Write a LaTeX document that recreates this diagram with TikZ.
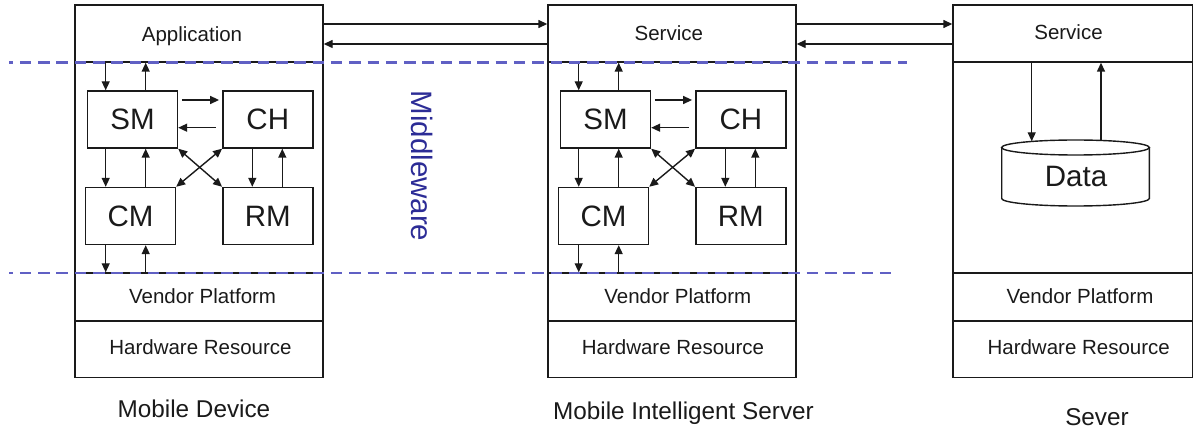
\documentclass[tikz,border=0pt]{standalone}
\usepackage{fontspec}
\setmainfont{Liberation Sans}
\usetikzlibrary{arrows.meta}

\definecolor{ink}{HTML}{1A1A1A}
\definecolor{mwdash}{RGB}{96,96,196}
\definecolor{mwtext}{RGB}{44,44,150}

\tikzset{
  frame/.style={draw=ink, line width=1.4pt, inner sep=0pt, minimum width=248pt},
  modbox/.style={draw=ink, line width=1.4pt, inner sep=0pt, minimum width=90pt,
    minimum height=57pt, text=ink, font=\fontsize{29.5pt}{34pt}\selectfont},
  flow/.style={draw=ink, line width=1.4pt, -{Triangle[length=9pt,width=8pt]}},
  flowboth/.style={draw=ink, line width=1.4pt,
    {Triangle[length=9pt,width=8pt]}-{Triangle[length=9pt,width=8pt]}},
  smalltxt/.style={font=\fontsize{20.5pt}{24pt}\selectfont, text=ink, inner sep=0pt, anchor=base},
  bigtxt/.style={font=\fontsize{29.5pt}{34pt}\selectfont, text=ink, inner sep=0pt, anchor=base},
  captxt/.style={font=\fontsize{24.3pt}{28pt}\selectfont, text=ink, inner sep=0pt, anchor=base},
  mwline/.style={draw=mwdash, line width=2.4pt, dash pattern=on 11.5pt off 6.8pt, dash phase=7.5pt},
  cyl/.style={draw=ink, line width=1.4pt}
}

% the four middleware modules and their links
\newcommand\drawmodules{%
  \node[modbox] (sm) at (132.5,119.5) {SM};
  \node[modbox] (ch) at (267.8,119.5) {CH};
  \node[modbox] (cm) at (130.5,216) {CM};
  \node[modbox] (rm) at (267.8,216) {RM};
  % upper layer <-> SM
  \draw[flow] ([xshift=-26.8pt]sm.north |- app.south) -- ([xshift=-26.8pt]sm.north);
  \draw[flow] ([xshift=13.2pt]sm.north) -- ([xshift=13.2pt]sm.north |- app.south);
  % SM <-> CH
  \draw[flow] ([xshift=3.7pt,yshift=19.5pt]sm.east) -- ([xshift=-3pt,yshift=19.5pt]ch.west);
  \draw[flow] ([xshift=-6.5pt,yshift=-8.2pt]ch.west) -- ([yshift=-8.2pt]sm.east);
  % SM <-> CM
  \draw[flow] ([xshift=-26.8pt]sm.south) -- ([xshift=-26.8pt]sm.south |- cm.north);
  \draw[flow] ([xshift=13.2pt]sm.south |- cm.north) -- ([xshift=13.2pt]sm.south);
  % CH <-> RM
  \draw[flow] ([xshift=-15.5pt]ch.south) -- ([xshift=-15.5pt]ch.south |- rm.north);
  \draw[flow] ([xshift=14.5pt]ch.south |- rm.north) -- ([xshift=14.5pt]ch.south);
  % crossing links
  \draw[flowboth] (sm.south east) -- (rm.north west);
  \draw[flowboth] (ch.south west) -- (cm.north east);
  % CM <-> vendor platform
  \draw[flow] ([xshift=-26.8pt]sm.south |- cm.south) -- ([xshift=-26.8pt]sm.south |- vp.north);
  \draw[flow] ([xshift=13.2pt]sm.south |- vp.north) -- ([xshift=13.2pt]sm.south |- cm.south);
}

% one device column: four stacked layers
\newcommand\drawcolumn[2]{%
  \node[frame, minimum width=#2, minimum height=57pt]  (app)  at (#1,33.5) {};
  \node[frame, minimum width=#2, minimum height=211pt] (core) at (#1,167.5) {};
  \node[frame, minimum width=#2, minimum height=48pt]  (vp)   at (#1,297) {};
  \node[frame, minimum width=#2, minimum height=56.5pt] (hw)  at (#1,349.25) {};
}

\begin{document}
\begin{tikzpicture}[x=1pt, y=-1pt]
  \useasboundingbox (0,0) rectangle (1194,430);

  % mobile device
  \drawcolumn{199}{248pt}
  \drawmodules

  % mobile intelligent server
  \begin{scope}[shift={(473,0)}, name prefix=m-]
    \drawcolumn{199}{248pt}
    \drawmodules
  \end{scope}

  % server
  \begin{scope}[name prefix=s-]
    \drawcolumn{1072.75}{239.5pt}
  \end{scope}

  % data store
  \node[minimum width=147.6pt, minimum height=66pt, inner sep=0pt] (data) at (1075.5,173) {};
  \draw[cyl] (1075.5,147.5) ellipse [x radius=73.8, y radius=7.5];
  \draw[cyl] (1001.7,147.5) -- (1001.7,198.5)
    .. controls (1001.7,202.64) and (1034.74,206) .. (1075.5,206)
    .. controls (1116.26,206) and (1149.3,202.64) .. (1149.3,198.5) -- (1149.3,147.5);
  \node[bigtxt] (data-t) at (1076,186.7) {Data};
  \draw[flow] ([xshift=-43.8pt]data.north |- s-app.south) -- ([xshift=-43.8pt,yshift=-1.5pt]data.north);
  \draw[flow] ([xshift=25.5pt,yshift=-0.5pt]data.north) -- ([xshift=25.5pt]data.north |- s-app.south);

  % links between the columns
  \draw[flow] ([yshift=9.5pt]app.east) -- ([yshift=9.5pt]m-app.west);
  \draw[flow] ([yshift=-10.5pt]m-app.west) -- ([yshift=-10.5pt]app.east);
  \draw[flow] ([yshift=9.5pt]m-app.east) -- ([yshift=9.5pt]s-app.west);
  \draw[flow] ([yshift=-10.5pt]s-app.west) -- ([yshift=-10.5pt]m-app.east);

  % layer labels
  \node[smalltxt] (t-app) at (192,41.7) {Application};
  \node[smalltxt] (t-msrv) at (668.8,40.7) {Service};
  \node[smalltxt] (t-ssrv) at (1068.5,39.3) {Service};
  \node[smalltxt] (t-vp1) at (202.6,303.3) {Vendor Platform};
  \node[smalltxt] (t-vp2) at (677.8,303.3) {Vendor Platform};
  \node[smalltxt] (t-vp3) at (1080,303.3) {Vendor Platform};
  \node[smalltxt] (t-hw1) at (200.5,354.3) {Hardware Resource};
  \node[smalltxt] (t-hw2) at (673,354.3) {Hardware Resource};
  \node[smalltxt] (t-hw3) at (1078.7,354.3) {Hardware Resource};

  % middleware band
  \coordinate (mw-a) at (9,62.7);
  \coordinate (mw-b) at (906.7,62.7);
  \coordinate (mw-c) at (9,273.3);
  \coordinate (mw-d) at (896.7,273.3);
  \draw[mwline] (mw-a) -- (mw-b);
  \draw[mwline] (mw-c) -- (mw-d);
  \node[rotate=-90, font=\fontsize{29.5pt}{34pt}\selectfont, text=mwtext, inner sep=0pt]
    (mw) at (422.5,166) {Middleware};

  % column captions
  \node[captxt] (c1) at (194,417.3) {Mobile Device};
  \node[captxt] (c2) at (683.5,419.3) {Mobile Intelligent Server};
  \node[captxt] (c3) at (1097,425) {Sever};
\end{tikzpicture}
\end{document}
